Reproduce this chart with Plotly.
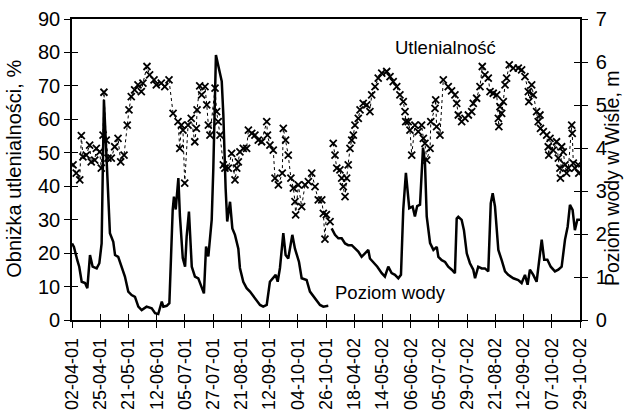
import plotly.graph_objects as go

# ---- data (x = sample index, 16 samples between labelled dates) ----
date_labels = ["02-04-01", "25-04-01", "21-05-01", "12-06-01", "05-07-01", "27-07-01",
               "21-08-01", "12-09-01", "04-10-01", "26-10-01", "18-04-02", "14-05-02",
               "06-06-02", "05-07-02", "29-07-02", "21-08-02", "12-09-02", "07-10-02",
               "29-10-02"]
label_step = 16

# Poziom wody (m) - 2001 season
water_2001 = [(0, 1.78), (1.1, 1.70), (3.0, 1.39), (4.1, 1.24), (5.5, 0.89), (7.4, 0.86), (8.7, 0.74),
              (10.2, 1.51), (11.7, 1.24), (14.0, 1.20), (15.5, 1.32), (16.8, 1.78), (18.1, 5.12),
              (20.6, 2.95), (21.5, 2.02), (23.4, 1.82), (24.4, 1.51), (26.2, 1.47), (28.2, 1.24),
              (30.0, 1.01), (31.9, 0.66), (33.8, 0.58), (35.7, 0.54), (37.6, 0.31), (39.5, 0.23),
              (42.3, 0.31), (45.2, 0.27), (47.1, 0.16), (48.9, 0.14), (50.9, 0.43), (51.8, 0.31),
              (53.7, 0.33), (55.2, 0.39), (56.0, 1.40), (57.1, 2.57), (57.8, 2.87), (58.8, 2.57),
              (60.3, 3.30), (61.2, 2.41), (62.8, 1.44), (64.1, 1.24), (65.0, 1.94), (66.3, 2.52),
              (67.9, 1.24), (69.7, 1.01), (71.6, 0.97), (73.5, 0.78), (74.8, 0.62), (76.0, 1.71),
              (77.3, 1.48), (79.2, 2.33), (80.1, 3.50), (81.6, 6.16), (84.9, 5.55), (85.8, 4.77),
              (86.3, 3.99), (87.1, 3.06), (88.0, 2.29), (89.6, 2.75), (90.9, 2.13), (92.4, 1.98),
              (94.3, 1.66), (95.2, 1.21), (97.1, 0.89), (99.0, 0.74), (100.9, 0.66), (103.7, 0.51),
              (106.6, 0.35), (108.4, 0.31), (110.4, 0.35), (112.2, 0.89), (114.1, 0.97), (115.5, 1.05),
              (116.6, 0.89), (117.9, 1.21), (119.8, 2.02), (121.1, 1.51), (122.6, 1.43), (124.9, 1.98),
              (126.4, 1.66), (128.7, 1.35), (130.2, 0.97), (133.0, 0.93), (134.9, 0.66), (137.8, 0.51),
              (140.6, 0.35), (142.5, 0.31), (145.3, 0.33)]

# Poziom wody (m) - 2002 season
water_2002 = [(147.2, 2.13), (149.1, 1.98), (151.0, 1.90), (152.9, 1.90), (154.8, 1.78), (156.6, 1.74),
              (158.6, 1.74), (160.4, 1.66), (162.3, 1.59), (164.2, 1.47), (166.1, 1.55), (168.0, 1.63),
              (168.9, 1.43), (170.8, 1.35), (173.1, 1.24), (175.6, 1.09), (177.4, 1.01), (179.3, 1.24),
              (181.2, 1.09), (183.1, 1.05), (185.0, 0.97), (186.5, 1.05), (187.8, 2.57), (189.3, 3.42),
              (191.2, 2.60), (193.1, 2.64), (194.4, 2.41), (195.7, 2.65), (197.3, 2.68), (199.0, 4.01),
              (200.1, 3.68), (201.1, 2.41), (203.0, 1.79), (204.9, 1.63), (206.8, 1.70), (207.7, 1.47),
              (209.6, 1.39), (211.5, 1.35), (213.3, 1.24), (215.3, 1.17), (217.1, 1.09), (218.1, 2.36),
              (219.0, 2.40), (220.9, 2.33), (222.2, 2.09), (223.8, 1.55), (225.6, 1.32), (227.5, 1.17),
              (228.5, 0.97), (230.3, 1.24), (232.3, 1.20), (234.1, 1.20), (236.0, 1.13), (237.4, 2.71),
              (238.5, 2.95), (239.8, 2.64), (241.7, 1.63), (243.6, 1.39), (245.5, 1.13), (247.3, 1.05),
              (250.2, 0.97), (253.0, 0.93), (254.9, 0.86), (256.8, 1.05), (258.3, 0.82), (259.6, 1.17),
              (261.5, 1.05), (263.4, 0.89), (264.9, 1.48), (266.3, 1.87), (267.7, 1.40), (269.5, 1.40),
              (271.4, 1.24), (273.8, 1.13), (275.7, 1.17), (277.6, 1.24), (279.5, 1.87), (281.0, 2.17),
              (282.3, 2.68), (283.8, 2.56), (285.1, 2.09), (286.5, 2.33), (288.0, 2.33)]

# Obniżka utlenialności (%) - 2001 season
oxid_2001 = [(0.6, 46.4), (2.4, 43.9), (4.4, 41.9), (5.3, 55.1), (6.2, 48.8), (8.1, 49.3), (10.0, 52.3),
             (10.9, 47.3), (12.9, 47.8), (13.8, 51.3), (15.7, 50.3), (16.6, 45.4), (17.6, 55.3),
             (18.1, 68.1), (19.4, 53.8), (20.4, 48.4), (22.3, 48.4), (24.2, 51.8), (26.1, 54.3),
             (27.6, 47.3), (29.5, 49.3), (31.3, 58.3), (32.3, 62.8), (33.6, 66.8), (35.5, 68.8),
             (37.4, 70.3), (39.3, 68.3), (40.2, 70.8), (42.5, 75.8), (44.0, 73.3), (46.5, 71.8),
             (47.8, 70.3), (50.6, 70.8), (52.6, 69.8), (55.0, 71.8), (57.3, 61.8), (60.1, 59.3),
             (61.1, 51.3), (62.0, 58.3), (62.9, 56.8), (63.9, 40.9), (65.8, 58.3), (67.6, 60.3),
             (69.6, 53.3), (70.5, 57.3), (70.9, 62.8), (72.4, 70.0), (73.5, 67.3), (75.4, 69.8),
             (76.4, 64.3), (77.3, 58.3), (78.2, 55.3), (81.1, 69.3), (82.0, 62.3), (82.9, 59.3),
             (83.9, 55.3), (85.8, 46.4), (86.7, 45.4), (88.6, 45.4), (90.5, 49.8), (92.4, 41.9),
             (93.4, 45.4), (94.3, 47.3), (95.2, 50.3), (97.1, 51.3), (99.0, 51.3), (100.0, 56.8),
             (101.9, 55.8), (103.7, 55.3), (105.6, 53.8), (107.5, 53.3), (110.4, 59.3), (110.8, 55.3),
             (112.2, 52.3), (114.1, 50.8), (115.1, 42.4), (117.0, 40.4), (119.2, 43.9), (119.8, 57.3),
             (121.1, 53.8), (122.6, 49.3), (124.1, 42.4), (125.5, 39.4), (126.4, 35.4), (126.8, 31.4),
             (128.3, 40.4), (130.2, 33.9), (132.1, 40.4), (134.0, 41.4), (135.9, 43.9), (137.8, 39.9),
             (139.6, 35.9), (141.6, 35.9), (142.5, 31.9), (143.4, 24.2), (144.2, 31.5), (146.3, 29.4)]

# Obniżka utlenialności (%) - 2002 season
oxid_2002 = [(148.1, 52.8), (149.1, 49.3), (150.1, 45.4), (151.9, 44.9), (152.9, 42.4), (153.8, 39.9),
             (154.8, 36.9), (155.7, 42.4), (156.6, 46.4), (157.6, 51.3), (158.6, 53.8), (159.5, 55.3),
             (160.4, 58.3), (162.3, 60.3), (163.3, 62.8), (165.1, 64.8), (167.1, 64.3), (168.9, 62.3),
             (169.9, 67.3), (171.8, 69.8), (173.6, 72.3), (175.6, 73.8), (178.4, 74.3), (180.3, 72.8),
             (182.1, 71.3), (184.1, 69.8), (185.9, 67.3), (187.8, 65.3), (188.8, 62.3), (189.2, 59.3),
             (190.6, 59.3), (191.6, 56.8), (192.6, 49.3), (194.4, 58.3), (196.3, 56.3), (198.2, 58.3),
             (199.2, 54.3), (200.1, 52.8), (201.1, 47.8), (203.0, 51.3), (203.4, 59.3), (205.8, 63.3),
             (206.2, 65.8), (206.7, 57.8), (208.6, 55.3), (210.5, 71.8), (213.3, 69.8), (215.2, 68.5),
             (217.1, 67.3), (218.1, 64.8), (219.0, 61.3), (220.9, 59.3), (222.8, 60.3), (224.7, 61.3),
             (226.6, 62.3), (227.5, 64.8), (229.4, 66.3), (231.3, 69.8), (232.6, 75.8), (234.1, 73.3),
             (236.0, 72.3), (237.0, 68.3), (238.8, 67.8), (240.8, 67.3), (241.7, 60.3), (242.0, 57.8),
             (242.6, 63.8), (243.6, 61.8), (244.5, 65.3), (245.5, 70.3), (246.4, 72.3), (247.9, 76.3),
             (250.2, 75.3), (253.0, 75.3), (254.9, 74.8), (256.8, 72.8), (258.7, 68.3), (259.0, 65.3),
             (260.6, 70.3), (261.5, 67.3), (263.4, 62.3), (264.3, 59.3), (265.3, 61.3), (265.6, 57.3),
             (267.2, 56.3), (269.1, 55.3), (270.0, 51.8), (270.3, 49.3), (271.0, 54.3), (272.8, 50.8),
             (274.7, 53.3), (275.7, 48.4), (276.6, 45.4), (276.9, 42.4), (277.6, 51.8), (278.5, 50.3),
             (279.5, 46.4), (280.4, 43.9), (281.4, 45.4), (283.3, 58.3), (283.6, 55.8), (284.2, 46.9),
             (285.1, 45.4), (287.0, 46.4), (287.3, 43.9)]

left_title = "Obniżka utlenialności, %"
right_title = "Poziom wody w Wiśle, m"
label_oxid = "Utlenialność"
label_water = "Poziom wody"


def join(a, b):
    xs = [p[0] for p in a] + [None] + [p[0] for p in b]
    ys = [p[1] for p in a] + [None] + [p[1] for p in b]
    return xs, ys


ox_x, ox_y = join(oxid_2001, oxid_2002)
w_x, w_y = join(water_2001, water_2002)

n_max = label_step * (len(date_labels) - 1)
tickvals = [i * label_step for i in range(len(date_labels))]

FONT = "Liberation Sans, Arial, sans-serif"

fig = go.Figure()
fig.add_trace(go.Scatter(
    x=ox_x, y=ox_y, mode="lines+markers", xaxis="x", yaxis="y",
    line=dict(color="black", width=1, dash="dot"),
    marker=dict(symbol="x-thin", size=7, color="black", line=dict(width=1.8, color="black")),
    showlegend=False, hoverinfo="skip"))
fig.add_trace(go.Scatter(
    x=w_x, y=w_y, mode="lines", xaxis="x", yaxis="y2",
    line=dict(color="black", width=2.5),
    showlegend=False, hoverinfo="skip"))
# empty traces to show the inward half of crossing tick marks
fig.add_trace(go.Scatter(x=[], y=[], xaxis="x2", yaxis="y3", showlegend=False))
fig.add_trace(go.Scatter(x=[], y=[], xaxis="x2", yaxis="y4", showlegend=False))

axis_common = dict(showgrid=False, zeroline=False, linecolor="black", tickcolor="black",
                   tickwidth=1.3, automargin=False)

fig.update_layout(
    width=624, height=416,
    margin=dict(l=72, r=44, t=19, b=96),
    paper_bgcolor="white", plot_bgcolor="white",
    font=dict(family=FONT, color="black", size=20),
    xaxis=dict(range=[0, n_max], tickmode="array", tickvals=tickvals, ticktext=date_labels,
               tickangle=-90, ticks="outside", ticklen=6, showline=True, linewidth=1.6,
               mirror=True, tickfont=dict(size=18), ticklabelstandoff=3, **axis_common),
    xaxis2=dict(range=[0, n_max], overlaying="x", anchor="y", side="bottom", tickmode="array",
                tickvals=tickvals, ticks="inside", ticklen=6, showticklabels=False,
                showline=False, **axis_common),
    yaxis=dict(range=[0, 90], dtick=10, ticks="outside", ticklen=6, showline=True, linewidth=1.6,
               tickfont=dict(size=20), **axis_common),
    yaxis2=dict(range=[0, 7], dtick=1, ticks="outside", ticklen=6, showline=True, linewidth=1.6,
                overlaying="y", side="right", anchor="x", ticklabelstandoff=4,
                tickfont=dict(size=20), **axis_common),
    yaxis3=dict(range=[0, 90], dtick=10, ticks="inside", ticklen=6, overlaying="y", side="left",
                anchor="x", showticklabels=False, showline=False, **axis_common),
    yaxis4=dict(range=[0, 7], dtick=1, ticks="inside", ticklen=6, overlaying="y", side="right",
                anchor="x", showticklabels=False, showline=False, **axis_common),
    annotations=[
        dict(x=-0.114, y=0.503, xref="paper", yref="paper", text=left_title, showarrow=False,
             textangle=-90, xanchor="center", yanchor="middle", font=dict(size=20)),
        dict(x=1.062, y=0.473, xref="paper", yref="paper", text=right_title, showarrow=False,
             textangle=-90, xanchor="center", yanchor="middle", font=dict(size=19.5)),
        dict(x=211.5, y=81.6, xref="x", yref="y", text=label_oxid, showarrow=False,
             font=dict(size=18.5)),
        dict(x=180.3, y=8.1, xref="x", yref="y", text=label_water, showarrow=False,
             font=dict(size=18.5)),
    ],
)

# remove the browser's default 8px page margin so the figure fills the window exactly
fig.write_html("out.html", config={"displayModeBar": False},
               post_script="document.body.style.margin='0';")
